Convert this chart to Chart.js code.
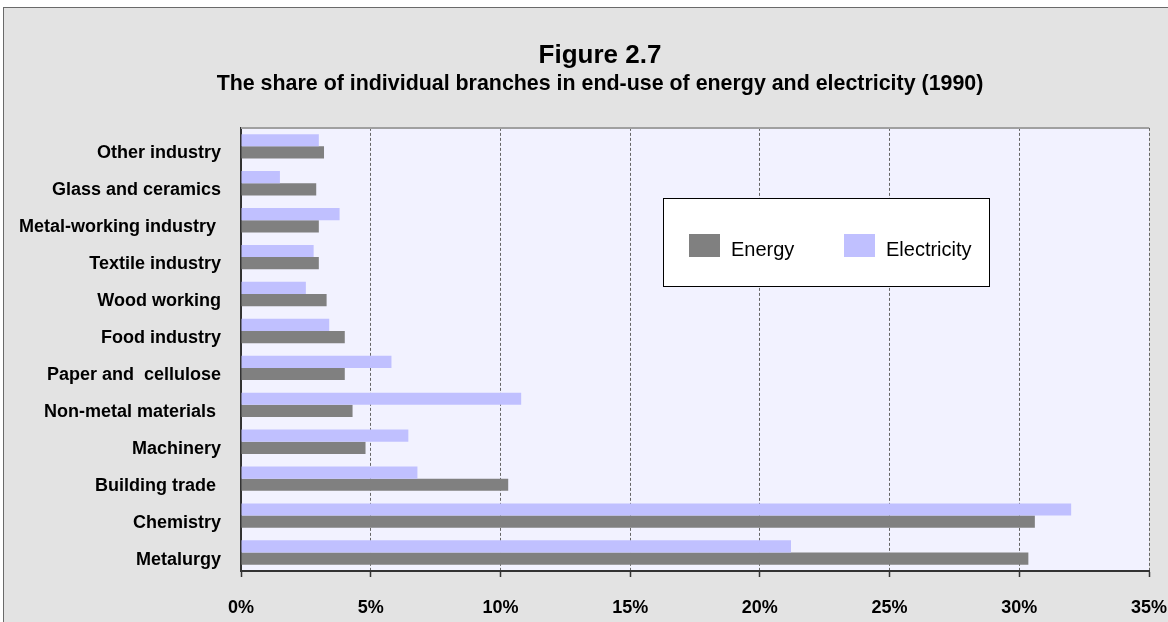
<!DOCTYPE html>
<html>
<head>
<meta charset="utf-8">
<script src="https://cdn.jsdelivr.net/npm/chart.js@4/dist/chart.umd.min.js"></script>
<style>
  html, body { margin: 0; padding: 0; background: #ffffff; overflow: hidden; }
  #frame { position: absolute; left: 3px; top: 7px; width: 1170px; height: 620px;
           background: #e3e3e3; border-left: 1px solid #6a6a6a; border-top: 1px solid #6a6a6a; }
  #c { position: absolute; left: 0; top: 0; }
</style>
</head>
<body>
<div id="frame"></div>
<canvas id="c" width="1168" height="622"></canvas>
<script>
const titleText = 'Figure 2.7';
const subtitleText = 'The share of individual branches in end-use of energy and electricity (1990)';
const categories = [
  'Other industry', 'Glass and ceramics', 'Metal-working industry ', 'Textile industry',
  'Wood working', 'Food industry', 'Paper and  cellulose', 'Non-metal materials ',
  'Machinery', 'Building trade ', 'Chemistry', 'Metalurgy'
];
const electricity = [3.0, 1.5, 3.8, 2.8, 2.5, 3.4, 5.8, 10.8, 6.45, 6.8, 32.0, 21.2];
const energy      = [3.2, 2.9, 3.0, 3.0, 3.3, 4.0, 4.0, 4.3, 4.8, 10.3, 30.6, 30.35];
const xTicks = [0, 5, 10, 15, 20, 25, 30, 35];
const seriesNames = ['Electricity', 'Energy'];
const legendOrder = ['Energy', 'Electricity'];

const FONT = "'Liberation Sans', Arial, sans-serif";

const plotDecor = {
  id: 'plotDecor',
  beforeDraw(chart) {
    const {ctx, chartArea: a} = chart;
    ctx.save();
    ctx.fillStyle = '#f2f2ff';
    ctx.fillRect(a.left, a.top, a.right - a.left, a.bottom - a.top);
    ctx.restore();
  },
  afterDraw(chart) {
    const {ctx, chartArea: a} = chart;
    ctx.save();
    ctx.strokeStyle = '#a0a0a0';
    ctx.lineWidth = 2;
    ctx.beginPath();
    ctx.moveTo(a.left, a.top);
    ctx.lineTo(a.right, a.top);
    ctx.stroke();
    // legend box
    const bx = 663, by = 198, bw = 326, bh = 88;
    ctx.fillStyle = '#ffffff';
    ctx.fillRect(bx, by, bw, bh);
    ctx.strokeStyle = '#000000';
    ctx.lineWidth = 1;
    ctx.strokeRect(bx + 0.5, by + 0.5, bw, bh);
    const items = legendOrder.map(n => chart.data.datasets.find(d => d.label === n));
    const xs = [689, 844];
    ctx.font = '20px ' + FONT;
    ctx.textBaseline = 'middle';
    ctx.textAlign = 'left';
    items.forEach((d, i) => {
      ctx.fillStyle = d.backgroundColor;
      ctx.fillRect(xs[i], 234, 31, 23);
      ctx.fillStyle = '#000000';
      ctx.fillText(d.label, xs[i] + 42, 250);
    });
    ctx.restore();
  }
};

new Chart(document.getElementById('c'), {
  type: 'bar',
  data: {
    labels: categories,
    datasets: [
      { label: seriesNames[0], data: electricity, backgroundColor: '#c0c0ff', borderWidth: 0 },
      { label: seriesNames[1], data: energy, backgroundColor: '#808080', borderWidth: 0 }
    ]
  },
  options: {
    indexAxis: 'y',
    responsive: false,
    animation: false,
    devicePixelRatio: 1,
    categoryPercentage: 0.66,
    barPercentage: 1.0,
    layout: { padding: { left: 0, right: -32, top: 0, bottom: 0 } },
    plugins: {
      legend: { display: false },
      tooltip: { enabled: false },
      title: {
        display: true, text: titleText, color: '#000',
        font: { family: FONT, size: 26, weight: 'bold' },
        padding: { top: 40, bottom: 0 }
      },
      subtitle: {
        display: true, text: subtitleText, color: '#000',
        font: { family: FONT, size: 21.4, weight: 'bold' },
        padding: { top: 0, bottom: 31 }
      }
    },
    scales: {
      x: {
        min: 0, max: 35,
        afterBuildTicks(scale) { scale.ticks = xTicks.map(v => ({ value: v })); },
        afterFit(scale) { scale.height = 51; scale.paddingLeft = 0; scale.paddingRight = 19; },
        ticks: {
          callback: v => v + '%', color: '#000', padding: 20,
          font: { family: FONT, size: 18, weight: 'bold' }, maxRotation: 0
        },
        grid: { color: '#666666', lineWidth: 1, tickLength: 6, tickColor: '#333333', tickWidth: 1.5, drawTicks: true },
        border: { display: true, color: '#333333', width: 2, dash: [3, 2] }
      },
      y: {
        afterFit(scale) { scale.width = 241; },
        ticks: {
          color: '#000', padding: 12, labelOffset: 7, autoSkip: false,
          font: { family: FONT, size: 18, weight: 'bold' }
        },
        grid: { display: false },
        border: { display: true, color: '#333333', width: 2 }
      }
    }
  },
  plugins: [plotDecor]
});
</script>
</body>
</html>
